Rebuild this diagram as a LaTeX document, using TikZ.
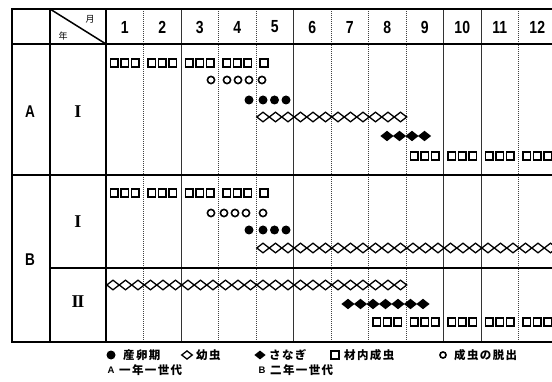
\documentclass[tikz,border=0pt]{standalone}
\usepackage{fontspec}
\setmainfont{Liberation Sans}
\newfontfamily\numf[FakeStretch=0.8]{Liberation Sans}
\newfontfamily\romf{Liberation Serif}
\newfontfamily\cjk[LetterSpace=12]{Noto Sans CJK JP}
\newfontfamily\cjkh{Noto Sans CJK JP}
\begin{document}
\begin{tikzpicture}[x=1pt,y=-1pt,
  thickln/.style={line width=2pt},
  midln/.style={line width=1.5pt},
  dotln/.style={line width=0.9pt,black!75,dash pattern=on 1pt off 1pt},
  solln/.style={line width=0.7pt,black!80},
  numlab/.style={font=\numf\bfseries\fontsize{17.5}{17.5}\selectfont,inner sep=0pt},
  rowlab/.style={font=\numf\bfseries\fontsize{17}{17}\selectfont,inner sep=0pt},
  romlab/.style={font=\romf\bfseries\fontsize{18}{18}\selectfont,inner sep=0pt},
  leg/.style={font=\cjk\bfseries\fontsize{11.5}{11.5}\selectfont,inner sep=0pt,anchor=west},
  sqm/.pic={\draw[line width=1.6pt] (-3.9,-3.9) rectangle (3.9,3.9);},
  circm/.pic={\draw[line width=1.6pt] (0,0) circle (3.6);},
  dotm/.pic={\fill (0,0) circle (4.5);},
  diam/.pic={\draw[line width=1.3pt,line join=miter] (-6.2,0)--(0,4.8)--(6.2,0)--(0,-4.8)--cycle;},
  fdiam/.pic={\fill (-6.6,0)--(0,5.2)--(6.6,0)--(0,-5.2)--cycle;}
]
\useasboundingbox (0,0) rectangle (552,382);
\fill[white] (0,0) rectangle (552,382);

% month separators
\foreach \m in {2,...,12}{
  \pgfmathsetmacro\xx{106+37.5*(\m-1)}
  \ifnum\m=3 \draw[solln] (\xx,9) -- (\xx,342);
  \else\ifnum\m=6 \draw[solln] (\xx,9) -- (\xx,342);
  \else\ifnum\m=10 \draw[solln] (\xx,9) -- (\xx,342);
  \else\ifnum\m=11 \draw[solln] (\xx,9) -- (\xx,342);
  \else \draw[dotln] (\xx,9) -- (\xx,342);
  \fi\fi\fi\fi
}

% frame
\draw[thickln] (552,9) -- (12,9) -- (12,342) -- (552,342);
\draw[thickln] (12,44) -- (552,44);
\draw[thickln] (12,175) -- (552,175);
\draw[midln] (50,268) -- (552,268);
\draw[thickln] (50,9) -- (50,342);
\draw[line width=2.5pt] (106,9) -- (106,342);
\draw[midln] (50,9) -- (106,44);

% header
\node[font=\cjkh\fontsize{9}{9}\selectfont,inner sep=0pt] (hm) at (90,19) {月};
\node[font=\cjkh\fontsize{9}{9}\selectfont,inner sep=0pt] (hy) at (63,36) {年};
\foreach \m in {1,...,12}{
  \node[numlab] (m\m) at ({106+37.5*(\m-0.5)},27) {\m};
}

% row labels
\node[rowlab] (ra) at (30,112) {A};
\node[romlab] (ra1) at (78,112) {I};
\node[rowlab] (rb) at (30,260) {B};
\node[romlab] (rb1) at (78,222) {I};
\node[romlab] (rb2) at (78,302) {I\kern-1.2pt I};

% ---- A ----
\foreach \m in {1,...,4}{\foreach \k in {-1,0,1}{\pic at ({106+37.5*(\m-0.5)+10.5*\k},63) {sqm};}}
\pic at (264,63) {sqm};
\foreach \x in {211,227,238,249,262}{\pic at (\x,80) {circm};}
\foreach \x in {249,263,274.5,286}{\pic at (\x,100) {dotm};}
\foreach \k in {0,...,11}{\pic at ({263+12.5*\k},117) {diam};}
\foreach \k in {0,...,3}{\pic at ({387+12.5*\k},136) {fdiam};}
\foreach \m in {9,...,12}{\foreach \k in {-1,0,1}{\pic at ({106+37.5*(\m-0.5)+10.5*\k},156) {sqm};}}

% ---- B I ----
\foreach \m in {1,...,4}{\foreach \k in {-1,0,1}{\pic at ({106+37.5*(\m-0.5)+10.5*\k},193) {sqm};}}
\pic at (264,193) {sqm};
\foreach \x in {211,224,235,246,263}{\pic at (\x,213) {circm};}
\foreach \x in {249,263,274.5,286}{\pic at (\x,230) {dotm};}
\foreach \k in {0,...,23}{\pic at ({263+12.5*\k},248) {diam};}

% ---- B II ----
\foreach \k in {0,...,23}{\pic at ({113+12.5*\k},285) {diam};}
\foreach \k in {0,...,6}{\pic at ({348+12.5*\k},304) {fdiam};}
\foreach \m in {8,...,12}{\foreach \k in {-1,0,1}{\pic at ({106+37.5*(\m-0.5)+10.5*\k},322) {sqm};}}

% ---- legend ----
\pic at (111,355) {dotm};
\node[leg] (l1) at (123,355) {産卵期};
\pic[scale=0.85] at (187,355) {diam};
\node[leg] (l2) at (196,355) {幼虫};
\pic[scale=0.85] at (260,355) {fdiam};
\node[leg] (l3) at (269,355) {さなぎ};
\pic at (335,355) {sqm};
\node[leg] (l4) at (344,355) {材内成虫};
\pic[scale=0.85] at (443,355) {circm};
\node[leg] (l5) at (454,355) {成虫の脱出};
\node[font=\bfseries\fontsize{9.5}{9.5}\selectfont,inner sep=0pt] (la) at (111,370) {A};
\node[leg] (la2) at (119,370) {一年一世代};
\node[font=\bfseries\fontsize{9.5}{9.5}\selectfont,inner sep=0pt] (lb) at (262,370) {B};
\node[leg] (lb2) at (270,370) {二年一世代};
\end{tikzpicture}
\end{document}
